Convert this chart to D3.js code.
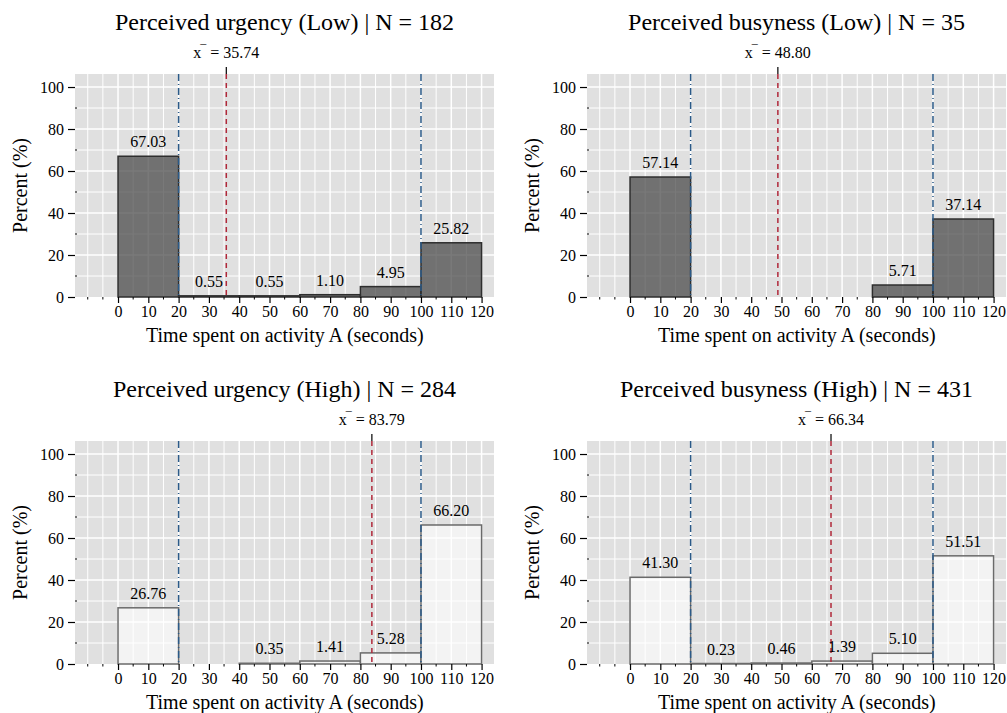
<!DOCTYPE html>
<html>
<head>
<meta charset="utf-8">
<script src="https://cdn.jsdelivr.net/npm/d3@7/dist/d3.min.js"></script>
<style>
  html, body { margin: 0; padding: 0; background: #ffffff; }
  svg { display: block; }
  text { font-family: "Liberation Serif", "Times New Roman", serif; fill: #000; }
</style>
</head>
<body>
<svg id="chart" width="1007" height="713"></svg>
<script>
// Histogram bins (seconds) and axis ticks
const binEdges = [0, 20, 40, 60, 80, 100, 120];
const xTickValues = [0, 10, 20, 30, 40, 50, 60, 70, 80, 90, 100, 110, 120];
const yTickValues = [0, 20, 40, 60, 80, 100];
const thresholds = [20, 100];

// Panel titles, sample sizes and means
const panelTitles = ["Perceived urgency (Low)", "Perceived busyness (Low)", "Perceived urgency (High)", "Perceived busyness (High)"];
const sampleSizes = [182, 35, 284, 431];
const meanValues = [35.74, 48.80, 83.79, 66.34];

// Percent of respondents per bin (null = empty bin)
const urgencyLow = [67.03, 0.55, 0.55, 1.10, 4.95, 25.82];
const busynessLow = [57.14, null, null, null, 5.71, 37.14];
const urgencyHigh = [26.76, null, 0.35, 1.41, 5.28, 66.20];
const busynessHigh = [41.30, 0.23, 0.46, 1.39, 5.10, 51.51];

const panelValues = [urgencyLow, busynessLow, urgencyHigh, busynessHigh];
const panelLevel = ["low", "low", "high", "high"];

const svg = d3.select("#chart");

// Layout of the 2x2 grid
const colLeft = [75, 587];
const panelWidth = 419;
const rowTop = [74, 441];
const panelHeight = 223;

const barStyle = {
  low:  { fill: "#4a4a4a", fillOpacity: 0.74, stroke: "#2e2e2e" },
  high: { fill: "#ffffff", fillOpacity: 0.6, stroke: "#6a6a6a" }
};

panelValues.forEach((vals, i) => {
  const left = colLeft[i % 2];
  const top = rowTop[Math.floor(i / 2)];
  const g = svg.append("g").attr("transform", `translate(${left},${top})`);

  const x = d3.scaleLinear().domain([-14.2, 124.1]).range([0, panelWidth]);
  const y = d3.scaleLinear().domain([0, 106.2]).range([panelHeight, 0]);

  // panel background
  g.append("rect")
    .attr("width", panelWidth).attr("height", panelHeight)
    .attr("fill", "#e0e0e0");

  // grid lines
  const vGrid = d3.range(-10, 121, 5);
  g.append("g").selectAll("line").data(vGrid).join("line")
    .attr("x1", d => x(d)).attr("x2", d => x(d))
    .attr("y1", 0).attr("y2", panelHeight)
    .attr("stroke", "#ffffff")
    .attr("stroke-width", d => (d % 10 === 0 && d >= 0) ? 1.5 : 1);
  const hGrid = d3.range(10, 106, 10);
  g.append("g").selectAll("line").data(hGrid).join("line")
    .attr("x1", 0).attr("x2", panelWidth)
    .attr("y1", d => y(d)).attr("y2", d => y(d))
    .attr("stroke", "#ffffff")
    .attr("stroke-width", d => d % 20 === 0 ? 1.5 : 1);

  // bars
  const bins = vals.map((v, k) => ({ x0: binEdges[k], x1: binEdges[k + 1], v }))
    .filter(d => d.v !== null);
  const st = barStyle[panelLevel[i]];
  g.append("g").selectAll("rect").data(bins).join("rect")
    .attr("x", d => x(d.x0))
    .attr("width", d => x(d.x1) - x(d.x0))
    .attr("y", d => y(d.v))
    .attr("height", d => y(0) - y(d.v))
    .attr("fill", st.fill)
    .attr("fill-opacity", st.fillOpacity)
    .attr("stroke", st.stroke)
    .attr("stroke-width", 1.5);

  // threshold lines
  g.append("g").selectAll("line").data(thresholds).join("line")
    .attr("x1", d => x(d)).attr("x2", d => x(d))
    .attr("y1", 0).attr("y2", panelHeight)
    .attr("stroke", "#2b5a88")
    .attr("stroke-width", 1.5)
    .attr("stroke-dasharray", "7,3,1,3");

  // mean line
  const m = meanValues[i];
  g.append("line")
    .attr("x1", x(m)).attr("x2", x(m))
    .attr("y1", 0).attr("y2", panelHeight)
    .attr("stroke", "#b0283a")
    .attr("stroke-width", 1.5)
    .attr("stroke-dasharray", "5,4");
  g.append("line")
    .attr("x1", x(m)).attr("x2", x(m))
    .attr("y1", -7).attr("y2", 0)
    .attr("stroke", "#000").attr("stroke-width", 1.2);
  const mt = g.append("text")
    .attr("x", x(m)).attr("y", -16)
    .attr("text-anchor", "middle")
    .attr("font-size", 16);
  mt.append("tspan").text("x");
  mt.append("tspan").attr("dy", -4).attr("dx", -1).attr("font-size", 12).text("\u00AF");
  mt.append("tspan").attr("dy", 4).text(" = " + m.toFixed(2));

  // value labels
  g.append("g").selectAll("text").data(bins).join("text")
    .attr("x", d => x((d.x0 + d.x1) / 2))
    .attr("y", d => y(d.v) - 9)
    .attr("text-anchor", "middle")
    .attr("font-size", 16)
    .text(d => d.v.toFixed(2));

  // axes
  const xAxis = g.append("g")
    .attr("transform", `translate(0,${panelHeight})`)
    .call(d3.axisBottom(x).tickValues(xTickValues).tickSize(6).tickPadding(3).tickFormat(d3.format("d")));
  xAxis.select(".domain").remove();
  xAxis.selectAll("line").attr("stroke", "#000").attr("stroke-width", 1.2);
  xAxis.selectAll("text").attr("font-size", 16).attr("font-family", "Liberation Serif, serif").attr("fill", "#000");

  const xMinor = d3.range(-10, 120, 5).filter(d => d < 0 || d % 10 !== 0);
  g.append("g").selectAll("line").data(xMinor).join("line")
    .attr("x1", d => x(d)).attr("x2", d => x(d))
    .attr("y1", panelHeight).attr("y2", panelHeight + 2.5)
    .attr("stroke", "#000").attr("stroke-width", 1);

  const yAxis = g.append("g")
    .call(d3.axisLeft(y).tickValues(yTickValues).tickSize(7).tickPadding(4).tickFormat(d3.format("d")));
  yAxis.select(".domain").remove();
  yAxis.selectAll("line").attr("stroke", "#000").attr("stroke-width", 1.2);
  yAxis.selectAll("text").attr("font-size", 16).attr("font-family", "Liberation Serif, serif").attr("fill", "#000");

  const yMinor = [10, 30, 50, 70, 90];
  g.append("g").selectAll("line").data(yMinor).join("line")
    .attr("x1", 0).attr("x2", 2)
    .attr("y1", d => y(d)).attr("y2", d => y(d))
    .attr("stroke", "#000").attr("stroke-width", 1);

  // titles
  g.append("text")
    .attr("x", panelWidth / 2).attr("y", -44)
    .attr("text-anchor", "middle")
    .attr("font-size", 24)
    .text(`${panelTitles[i]} | N = ${sampleSizes[i]}`);

  g.append("text")
    .attr("x", (x(0) + x(120)) / 2 - 15).attr("y", panelHeight + 45)
    .attr("text-anchor", "middle")
    .attr("font-size", 20)
    .text("Time spent on activity A (seconds)");

  g.append("text")
    .attr("transform", `translate(-48,${panelHeight / 2}) rotate(-90)`)
    .attr("text-anchor", "middle")
    .attr("font-size", 20)
    .text("Percent (%)");
});
</script>
</body>
</html>
